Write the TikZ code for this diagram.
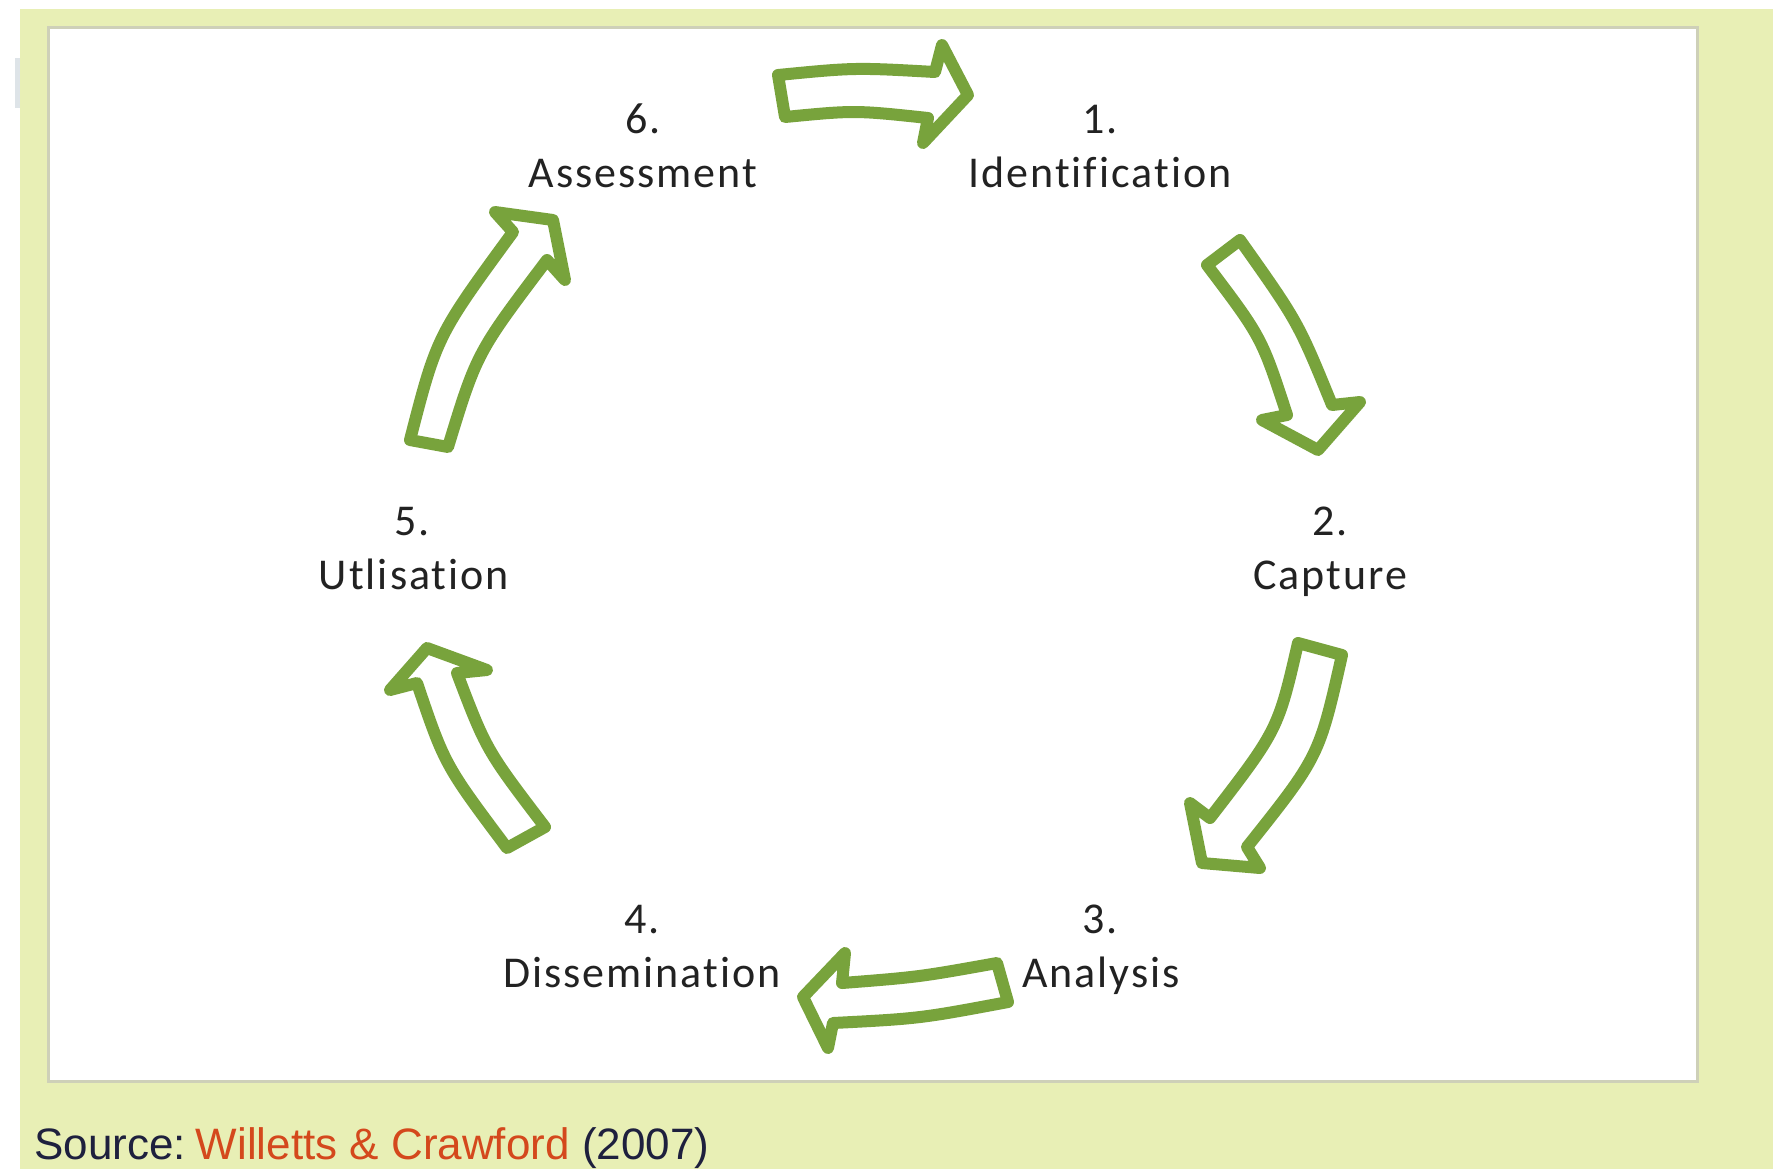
\documentclass[tikz,border=0pt]{standalone}
\usepackage{fontspec}
\setmainfont{Liberation Sans}
\newfontfamily\labfont[LetterSpace=4.5,Ligatures=NoCommon]{Carlito}
\definecolor{bgyellow}{RGB}{232,239,181}
\definecolor{greybit}{RGB}{222,228,232}
\definecolor{panelborder}{RGB}{206,208,184}
\definecolor{arrowgreen}{RGB}{120,163,60}
\definecolor{labcol}{RGB}{34,34,34}
\definecolor{srcdark}{RGB}{30,32,62}
\definecolor{srcred}{RGB}{212,72,28}
\begin{document}
\begin{tikzpicture}[x=0.5pt,y=-0.5pt,
  lab/.style={font=\labfont\fontsize{22}{26}\selectfont, text=labcol, anchor=base, inner sep=0pt},
  blockarrow/.style={draw=arrowgreen, line width=6pt, fill=white, line join=round}]
\useasboundingbox (0,0) rectangle (1782,1169);
\fill[white] (0,0) rectangle (1782,1169);
\fill[bgyellow] (20,9) rectangle (1773,1169);
\fill[greybit] (15,58) rectangle (20,108);
\draw[panelborder, line width=1.5pt, fill=white] (48,27) rectangle (1697,1081);

% labels
\node[lab] (n6) at (643,133) {6.};
\node[lab] (t6) at (643,187) {Assessment};
\node[lab] (n1) at (1100,133) {1.};
\node[lab] (t1) at (1100,187) {Identification};
\node[lab] (n2) at (1330,535) {2.};
\node[lab] (t2) at (1330,589) {Capture};
\node[lab] (n3) at (1100,933) {3.};
\node[lab] (t3) at (1101,987) {Analysis};
\node[lab] (n4) at (642,933) {4.};
\node[lab] (t4) at (642,987) {Dissemination};
\node[lab] (n5) at (412,535) {5.};
\node[lab] (t5) at (414,589) {Utlisation};

% arrow 6 -> 1 (top)
\draw[blockarrow] (778,75) .. controls (855,67.5) .. (935,72) -- (942,45) -- (968,95)
  -- (923,143) -- (928,118) .. controls (855,110.2) .. (785,117) -- cycle;
% arrow 1 -> 2
\draw[blockarrow] (1207,265) .. controls (1261.7,337.3) .. (1287,415) -- (1262,420) -- (1318,450)
  -- (1360,402) -- (1332,405) .. controls (1298,321.8) .. (1240,240) -- cycle;
% arrow 2 -> 3
\draw[blockarrow] (1342,655) .. controls (1319.2,756.3) .. (1247,847) -- (1260,868) -- (1202,863)
  -- (1190,803) -- (1210,818) .. controls (1278,729.8) .. (1298,643) -- cycle;
% arrow 3 -> 4 (bottom)
\draw[blockarrow] (997,963) .. controls (918.8,977) .. (842,983) -- (845,953) -- (803,997)
  -- (828,1048) -- (833,1023) .. controls (919.8,1018.5) .. (1008,1002) -- cycle;
% arrow 4 -> 5
\draw[blockarrow] (507,848) .. controls (444.7,764.8) .. (417,683) -- (390,690) -- (427,648)
  -- (487,670) -- (457,673) .. controls (486.3,750) .. (545,827) -- cycle;
% arrow 5 -> 6
\draw[blockarrow] (410,440) .. controls (436.8,336) .. (513,232) -- (495,212) -- (553,220)
  -- (565,280) -- (547,260) .. controls (476.8,352.8) .. (448,447) -- cycle;

% source line
\node[anchor=base west, inner sep=0pt, font=\fontsize{22}{26}\selectfont] (src) at (34,1159)
  {\textcolor{srcdark}{Source:}\hspace{0.22em}\textcolor{srcred}{Willetts \& Crawford} \textcolor{srcdark}{(2007)}};
\end{tikzpicture}
\end{document}
